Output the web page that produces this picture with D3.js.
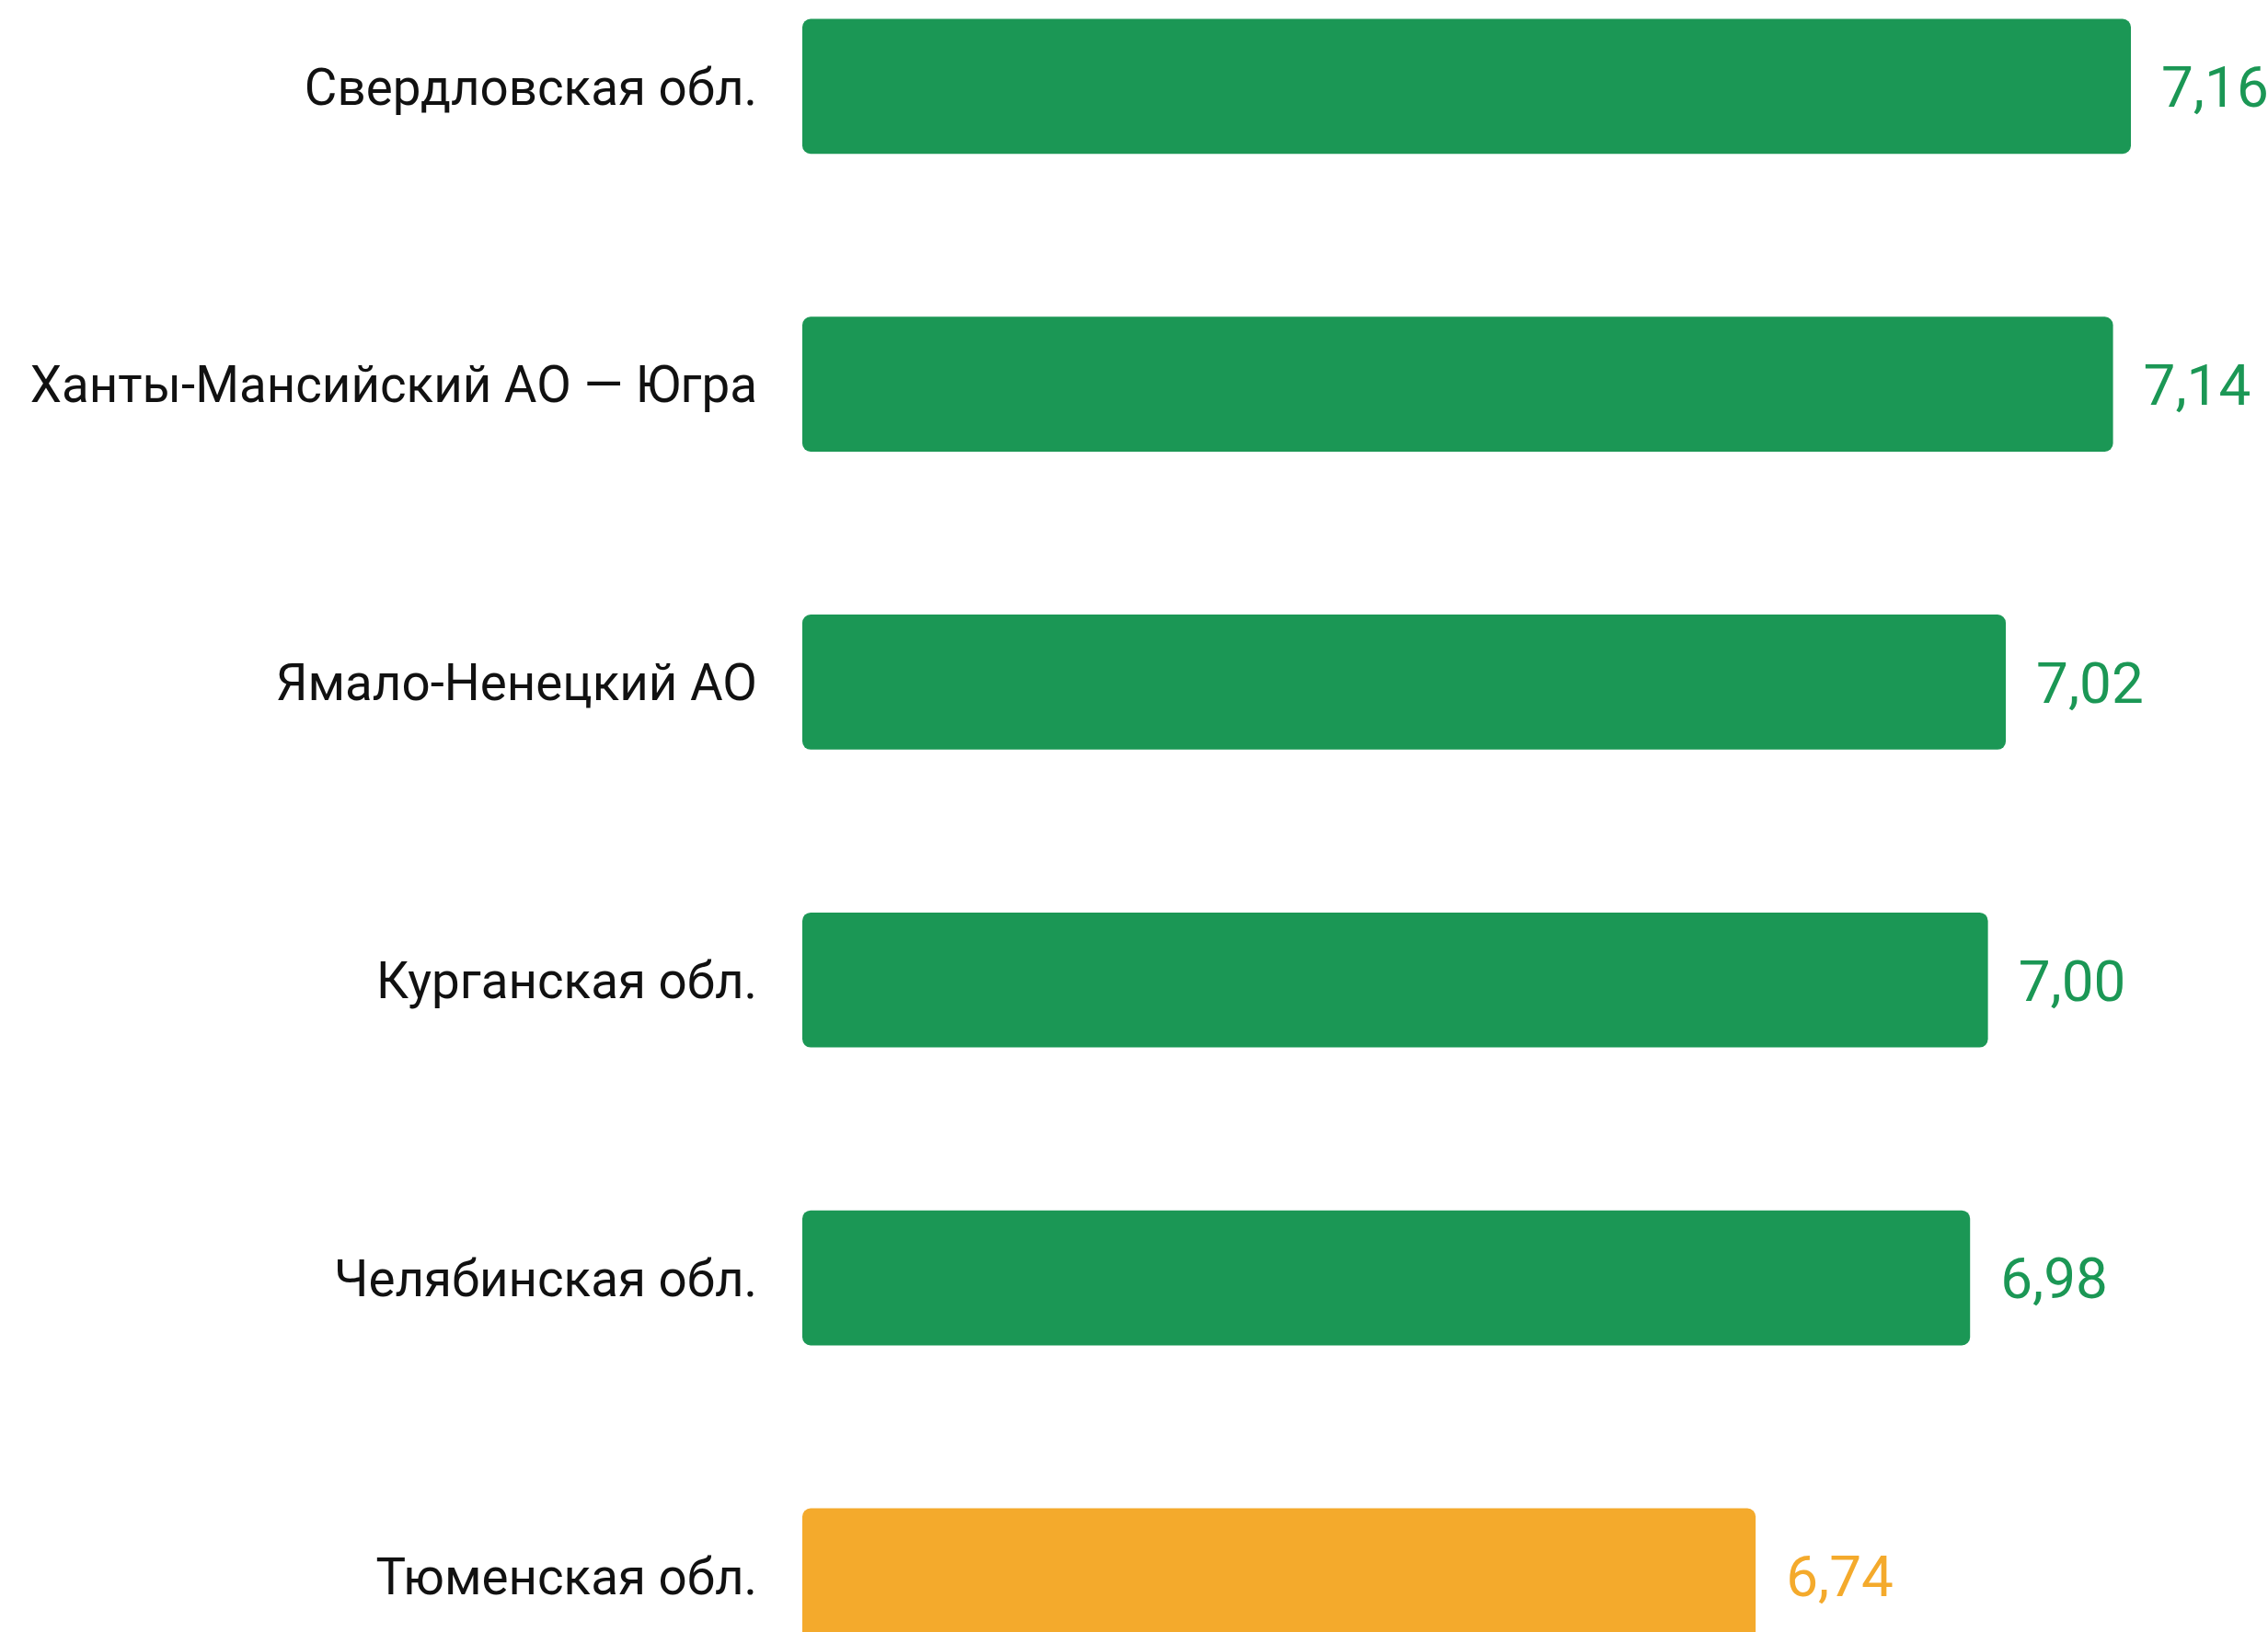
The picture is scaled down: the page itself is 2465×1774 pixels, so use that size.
<!DOCTYPE html>
<html>
<head>
<meta charset="utf-8">
<script src="https://cdn.jsdelivr.net/npm/d3@7"></script>
<style>
  html, body { margin: 0; padding: 0; background: #fff; overflow: hidden; }
  svg { display: block; font-family: Roboto, "Noto Sans", sans-serif; }
</style>
</head>
<body>
<svg id="chart"></svg>
<script>
var width = 2465;
var height = 1774;

// data
var regions = [
    "Свердловская обл.",
    "Ханты-Мансийский АО — Югра",
    "Ямало-Ненецкий АО",
    "Курганская обл.",
    "Челябинская обл.",
    "Тюменская обл."
];
var values = [7.16, 7.14, 7.02, 7.00, 6.98, 6.74];
var highlight = "Тюменская обл.";

var green = "#1b9755";
var orange = "#f4aa2c";

var svg = d3.select("#chart")
    .attr("width", width)
    .attr("height", height);

var x = d3.scaleLinear()
    .domain([5.673, d3.max(values)])
    .range([872, 2316]);

var y = d3.scaleBand()
    .domain(regions)
    .range([20.5, 1786.2])
    .paddingInner(0.547)
    .paddingOuter(0);

var fmt = function (v) { return d3.format(".2f")(v).replace(".", ","); };

var rows = svg.selectAll("g.row")
    .data(regions.map(function (r, i) { return { key: r, y: values[i] }; }))
    .enter().append("g")
    .attr("class", "row");

rows.append("rect")
    .attr("x", x.range()[0])
    .attr("y", function (d) { return y(d.key); })
    .attr("width", function (d) { return x(d.y) - x.range()[0]; })
    .attr("height", y.bandwidth())
    .attr("rx", 9)
    .style("fill", function (d) { return d.key === highlight ? orange : green; });

// category labels
rows.append("text")
    .attr("x", x.range()[0] - 49)
    .attr("y", function (d) { return y(d.key) + y.bandwidth() / 2; })
    .attr("dy", "0.36em")
    .attr("text-anchor", "end")
    .style("font-size", "54.7px")
    .style("fill", "#111")
    .text(function (d) { return d.key; });

// value labels
rows.append("text")
    .attr("x", function (d) { return x(d.y) + 33; })
    .attr("y", function (d) { return y(d.key) + y.bandwidth() / 2; })
    .attr("dy", "0.36em")
    .style("font-size", "62px")
    .style("fill", function (d) { return d.key === highlight ? orange : green; })
    .text(function (d) { return fmt(d.y); });
</script>
</body>
</html>
